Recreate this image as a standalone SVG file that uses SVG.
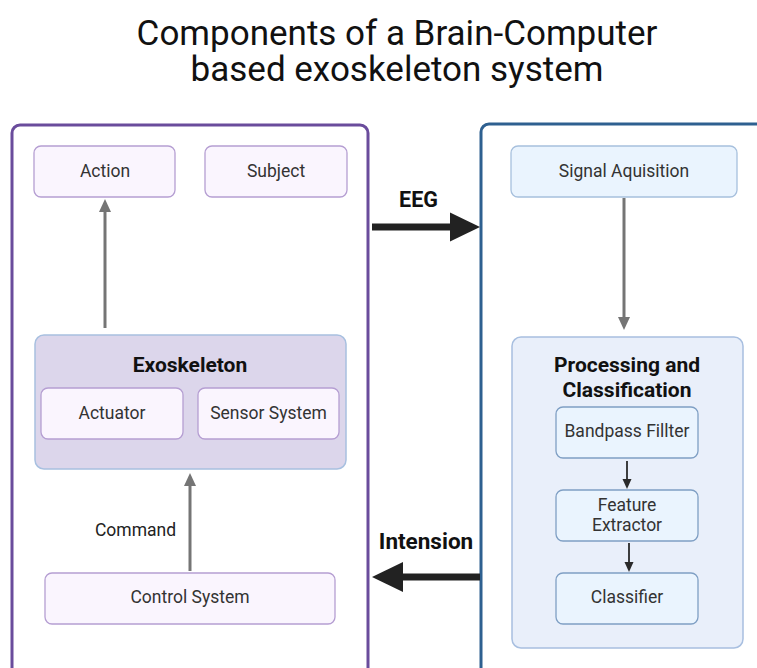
<svg xmlns="http://www.w3.org/2000/svg" width="757" height="668" viewBox="0 0 757 668">
<style>
text{font-family:Roboto,"Liberation Sans",sans-serif;}
.t{font-size:17.5px;fill:#333;text-anchor:middle;}
.b{font-size:21px;font-weight:bold;fill:#111;text-anchor:middle;}
.title{font-size:35px;fill:#111;text-anchor:middle;}
.purp{fill:#faf5fe;stroke:#b59ed2;stroke-width:1.3;}
.blue{fill:#eaf4fe;stroke:#a7c0dd;stroke-width:1.3;}
.inner{fill:#eaf4fe;stroke:#7f9fc4;stroke-width:1.3;}
.gl{stroke:#757575;stroke-width:3;fill:none;}
.gh{fill:#757575;}
.dl{stroke:#2a2a2a;stroke-width:1.8;fill:none;}
.dh{fill:#2a2a2a;}
</style>
<rect width="757" height="668" fill="#ffffff"/>
<g id="title">
<text class="title" x="397" y="45">Components of a Brain-Computer</text>
<text class="title" x="397" y="81">based exoskeleton system</text>
</g>
<g id="left-panel">
<rect x="12" y="125" width="356" height="560" rx="8" fill="#ffffff" stroke="#6a4c9c" stroke-width="3"/>
</g>
<g id="right-panel">
<rect x="481" y="124" width="300" height="560" rx="8" fill="#ffffff" stroke="#2e6090" stroke-width="3"/>
</g>
<g id="action"><rect class="purp" x="34" y="146" width="141" height="51" rx="7"/><text class="t" x="105" y="177">Action</text></g>
<g id="subject"><rect class="purp" x="205" y="146" width="142" height="51" rx="7"/><text class="t" x="276" y="177">Subject</text></g>
<g id="exoskeleton">
<rect x="35" y="335" width="311" height="134" rx="9" fill="#dcd6eb" stroke="#a8c0e0" stroke-width="1.5"/>
<text class="b" x="190" y="372">Exoskeleton</text>
</g>
<g id="actuator"><rect class="purp" x="41" y="388" width="142" height="51" rx="7"/><text class="t" x="112" y="419">Actuator</text></g>
<g id="sensor-system"><rect class="purp" x="198" y="388" width="141" height="51" rx="7"/><text class="t" x="268.5" y="419">Sensor System</text></g>
<g id="control-system"><rect class="purp" x="45" y="573" width="290" height="51" rx="7"/><text class="t" x="190" y="603">Control System</text></g>
<g id="signal-aquisition"><rect class="blue" x="511" y="146" width="226" height="51" rx="7"/><text class="t" x="624" y="177">Signal Aquisition</text></g>
<g id="processing">
<rect x="512" y="337" width="231" height="311" rx="9" fill="#e9effa" stroke="#a8bfe0" stroke-width="1.5"/>
<text class="b" x="627" y="372">Processing and</text>
<text class="b" x="627" y="397">Classification</text>
</g>
<g id="bandpass"><rect class="inner" x="556" y="407" width="142" height="51" rx="7"/><text class="t" x="627" y="437">Bandpass Fillter</text></g>
<g id="feature-extractor"><rect class="inner" x="556" y="490" width="142" height="51" rx="7"/><text class="t" x="627" y="511">Feature</text><text class="t" x="627" y="531">Extractor</text></g>
<g id="classifier"><rect class="inner" x="556" y="573" width="142" height="51" rx="7"/><text class="t" x="627" y="603">Classifier</text></g>
<g id="connectors">
<line class="gl" x1="105" y1="328" x2="105" y2="208"/>
<polygon class="gh" points="105,199 99,212 111,212"/>
<line class="gl" x1="190" y1="571" x2="190" y2="482"/>
<polygon class="gh" points="190,473 184,486 196,486"/>
<text class="t" x="135.5" y="536" style="fill:#222">Command</text>
<line class="gl" x1="624" y1="198" x2="624" y2="320"/>
<polygon class="gh" points="624,330 618,317 630,317"/>
<line class="dl" x1="627" y1="461" x2="627" y2="481"/>
<polygon class="dh" points="627,489 622.5,479 631.5,479"/>
<line class="dl" x1="629" y1="543" x2="629" y2="564"/>
<polygon class="dh" points="629,572 624.5,562 633.5,562"/>
<line x1="372" y1="227" x2="452" y2="227" stroke="#222" stroke-width="7"/>
<polygon points="480,227 450,212.5 450,241.5" fill="#222"/>
<text class="b" x="418.5" y="207" style="font-size:21.5px">EEG</text>
<line x1="480" y1="577" x2="400" y2="577" stroke="#222" stroke-width="7"/>
<polygon points="372,577 403,562 403,592" fill="#222"/>
<text class="b" x="426" y="549" style="font-size:22.5px">Intension</text>
</g>
</svg>
